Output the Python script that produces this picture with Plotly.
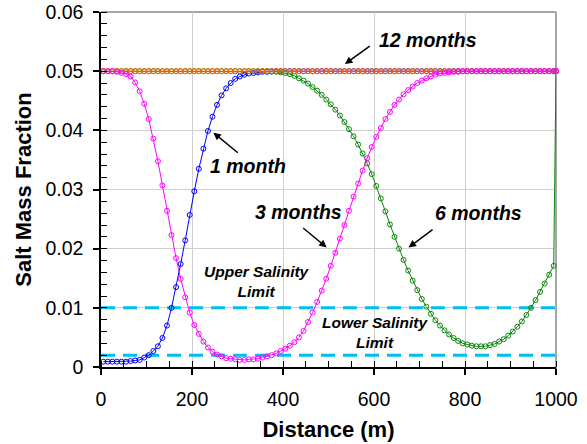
import plotly.graph_objects as go

# Distance grid: cell centres every 10 m plus the seaward boundary at 1000 m
distance_m = list(range(5, 1000, 10)) + [1000]

# Salt mass fraction after each simulated period
salt_1_month = [
    0.0009, 0.0009, 0.0009, 0.0009, 0.0009, 0.0009, 0.0010, 0.0011, 0.0012, 0.0016,
    0.0020, 0.0027, 0.0035, 0.0049, 0.0070, 0.0100, 0.0135, 0.0174, 0.0214, 0.0257,
    0.0297, 0.0335, 0.0369, 0.0399, 0.0423, 0.0443, 0.0459, 0.0471, 0.0480, 0.0487,
    0.0491, 0.0494, 0.0496, 0.0497, 0.0498, 0.0499, 0.0499, 0.0500, 0.0500, 0.0500,
    0.0500, 0.0500, 0.0500, 0.0500, 0.0500, 0.0500, 0.0500, 0.0500, 0.0500, 0.0500,
    0.0500, 0.0500, 0.0500, 0.0500, 0.0500, 0.0500, 0.0500, 0.0500, 0.0500, 0.0500,
    0.0500, 0.0500, 0.0500, 0.0500, 0.0500, 0.0500, 0.0500, 0.0500, 0.0500, 0.0500,
    0.0500, 0.0500, 0.0500, 0.0500, 0.0500, 0.0500, 0.0500, 0.0500, 0.0500, 0.0500,
    0.0500, 0.0500, 0.0500, 0.0500, 0.0500, 0.0500, 0.0500, 0.0500, 0.0500, 0.0500,
    0.0500, 0.0500, 0.0500, 0.0500, 0.0500, 0.0500, 0.0500, 0.0500, 0.0500, 0.0500,
    0.0500,
]

salt_3_months = [
    0.0500, 0.0500, 0.0500, 0.0499, 0.0497, 0.0495, 0.0491, 0.0481, 0.0466, 0.0445,
    0.0419, 0.0386, 0.0348, 0.0307, 0.0264, 0.0223, 0.0184, 0.0149, 0.0118, 0.0092,
    0.0071, 0.0056, 0.0043, 0.0033, 0.0026, 0.0021, 0.0018, 0.0015, 0.0014, 0.0013,
    0.0012, 0.0012, 0.0013, 0.0013, 0.0014, 0.0016, 0.0018, 0.0020, 0.0023, 0.0027,
    0.0031, 0.0036, 0.0042, 0.0050, 0.0061, 0.0076, 0.0092, 0.0110, 0.0129, 0.0149,
    0.0171, 0.0193, 0.0217, 0.0240, 0.0264, 0.0288, 0.0310, 0.0332, 0.0353, 0.0372,
    0.0389, 0.0404, 0.0419, 0.0431, 0.0443, 0.0452, 0.0461, 0.0468, 0.0474, 0.0480,
    0.0484, 0.0488, 0.0491, 0.0494, 0.0496, 0.0497, 0.0498, 0.0499, 0.0499, 0.0500,
    0.0500, 0.0500, 0.0500, 0.0500, 0.0500, 0.0500, 0.0500, 0.0500, 0.0500, 0.0500,
    0.0500, 0.0500, 0.0500, 0.0500, 0.0500, 0.0500, 0.0500, 0.0500, 0.0500, 0.0500,
    0.0500,
]

salt_6_months = [
    0.0500, 0.0500, 0.0500, 0.0500, 0.0500, 0.0500, 0.0500, 0.0500, 0.0500, 0.0500,
    0.0500, 0.0500, 0.0500, 0.0500, 0.0500, 0.0500, 0.0500, 0.0500, 0.0500, 0.0500,
    0.0500, 0.0500, 0.0500, 0.0500, 0.0500, 0.0500, 0.0500, 0.0500, 0.0500, 0.0500,
    0.0500, 0.0500, 0.0500, 0.0500, 0.0500, 0.0500, 0.0500, 0.0499, 0.0499, 0.0498,
    0.0497, 0.0495, 0.0492, 0.0488, 0.0484, 0.0479, 0.0473, 0.0467, 0.0460, 0.0452,
    0.0444, 0.0435, 0.0425, 0.0414, 0.0402, 0.0390, 0.0376, 0.0361, 0.0344, 0.0326,
    0.0306, 0.0285, 0.0263, 0.0241, 0.0220, 0.0200, 0.0181, 0.0163, 0.0146, 0.0130,
    0.0115, 0.0102, 0.0090, 0.0079, 0.0070, 0.0062, 0.0055, 0.0049, 0.0044, 0.0040,
    0.0038, 0.0036, 0.0035, 0.0035, 0.0035, 0.0037, 0.0039, 0.0043, 0.0047, 0.0053,
    0.0060, 0.0068, 0.0077, 0.0088, 0.0100, 0.0113, 0.0127, 0.0141, 0.0156, 0.0171,
    0.0500,
]

salt_12_months = [
    0.0500, 0.0500, 0.0500, 0.0500, 0.0500, 0.0500, 0.0500, 0.0500, 0.0500, 0.0500,
    0.0500, 0.0500, 0.0500, 0.0500, 0.0500, 0.0500, 0.0500, 0.0500, 0.0500, 0.0500,
    0.0500, 0.0500, 0.0500, 0.0500, 0.0500, 0.0500, 0.0500, 0.0500, 0.0500, 0.0500,
    0.0500, 0.0500, 0.0500, 0.0500, 0.0500, 0.0500, 0.0500, 0.0500, 0.0500, 0.0500,
    0.0500, 0.0500, 0.0500, 0.0500, 0.0500, 0.0500, 0.0500, 0.0500, 0.0500, 0.0500,
    0.0500, 0.0500, 0.0500, 0.0500, 0.0500, 0.0500, 0.0500, 0.0500, 0.0500, 0.0500,
    0.0500, 0.0500, 0.0500, 0.0500, 0.0500, 0.0500, 0.0500, 0.0500, 0.0500, 0.0500,
    0.0500, 0.0500, 0.0500, 0.0500, 0.0500, 0.0500, 0.0500, 0.0500, 0.0500, 0.0500,
    0.0500, 0.0500, 0.0500, 0.0500, 0.0500, 0.0500, 0.0500, 0.0500, 0.0500, 0.0500,
    0.0500, 0.0500, 0.0500, 0.0500, 0.0500, 0.0500, 0.0500, 0.0500, 0.0500, 0.0500,
    0.0500,
]

# Salinity limits and the span they are drawn over
limit_span_m = [0, 1000]
upper_salinity_limit = 0.01
lower_salinity_limit = 0.002

FONT = "Arial, 'Liberation Sans', sans-serif"
LIMIT_COLOR = "#00BFF0"

fig = go.Figure()

for level in (upper_salinity_limit, lower_salinity_limit):
    fig.add_trace(go.Scatter(
        x=limit_span_m, y=[level, level], mode="lines",
        line=dict(color=LIMIT_COLOR, width=3, dash="14px,8px"),
        hoverinfo="skip",
    ))

# Drawing order keeps the 3-month curve on top
series = [
    ("1 month", salt_1_month, "#0000FF"),
    ("6 months", salt_6_months, "#0A860A"),
    ("12 months", salt_12_months, "#FF6600"),
    ("3 months", salt_3_months, "#FF00FF"),
]
for name, values, color in series:
    fig.add_trace(go.Scatter(
        x=distance_m, y=values, name=name, mode="lines+markers",
        line=dict(color=color, width=1), cliponaxis=False,
        marker=dict(symbol="circle-open", size=5, color=color, line=dict(width=1, color=color)),
    ))

tick_font = dict(family=FONT, size=19.5, color="black")
title_font = dict(family=FONT, size=22, color="black")

fig.update_layout(
    width=587, height=444,
    margin=dict(l=101, r=31, t=12, b=77),
    paper_bgcolor="white", plot_bgcolor="white",
    showlegend=False,
    xaxis=dict(
        range=[0, 1000], dtick=200, tick0=0, automargin=False,
        showline=True, linecolor="black", linewidth=1.5,
        ticks="outside", ticklen=6, tickwidth=1.5, tickcolor="black",
        ticklabelstandoff=8,
        showgrid=True, gridcolor="#CFCFCF", gridwidth=1, zeroline=False,
        minor=dict(ticks="inside", dtick=50, ticklen=6, tickwidth=1, tickcolor="black", showgrid=False),
        tickfont=tick_font,
        title=dict(text="<b>Distance (m)</b>", font=title_font, standoff=12),
    ),
    yaxis=dict(
        range=[0, 0.06], dtick=0.01, tick0=0, automargin=False,
        showline=True, linecolor="black", linewidth=1.5,
        ticks="outside", ticklen=6, tickwidth=1.5, tickcolor="black",
        ticklabelstandoff=6,
        showgrid=True, gridcolor="#CFCFCF", gridwidth=1, zeroline=False,
        minor=dict(ticks="inside", dtick=0.002, ticklen=6, tickwidth=1, tickcolor="black", showgrid=False),
        tickfont=tick_font,
        title=dict(text="<b>Salt Mass Fraction</b>", font=title_font, standoff=8),
    ),
    # Inner halves of the major ticks, so they cross the axis lines
    xaxis2=dict(
        overlaying="x", matches="x", anchor="y", side="bottom", automargin=False,
        range=[0, 1000], dtick=200, tick0=0,
        ticks="inside", ticklen=6, tickwidth=1.5, tickcolor="black",
        showticklabels=False, showgrid=False, showline=False, zeroline=False,
    ),
    yaxis2=dict(
        overlaying="y", matches="y", anchor="x", side="left", automargin=False,
        range=[0, 0.06], dtick=0.01, tick0=0,
        ticks="inside", ticklen=6, tickwidth=1.5, tickcolor="black",
        showticklabels=False, showgrid=False, showline=False, zeroline=False,
    ),
    shapes=[
        dict(type="line", xref="paper", yref="paper", x0=0, x1=1, y0=1, y1=1,
             layer="below", line=dict(color="#A6A6A6", width=2)),
        dict(type="line", xref="paper", yref="paper", x0=1, x1=1, y0=-0.017, y1=1,
             layer="below", line=dict(color="#A6A6A6", width=2)),
    ],
)

label_font = dict(family=FONT, size=19.5, color="black")
limit_font = dict(family=FONT, size=15.5, color="black")

# Curve labels
for text, x, y in [
    ("12 months", 718, 0.0553),
    ("1 month", 324, 0.0339),
    ("3 months", 434, 0.0262),
    ("6 months", 830, 0.0260),
]:
    fig.add_annotation(x=x, y=y, text=f"<b><i>{text}</i></b>", showarrow=False,
                       font=label_font, xanchor="center", yanchor="middle")

# Arrows from each label to its curve
for head_x, head_y, tail_x, tail_y in [
    (536, 0.0512, 594, 0.0544),
    (247, 0.0396, 304, 0.0360),
    (496, 0.0202, 441, 0.0237),
    (676, 0.0202, 732, 0.0234),
]:
    fig.add_annotation(x=head_x, y=head_y, ax=tail_x, ay=tail_y, axref="x", ayref="y",
                       text="", showarrow=True, arrowhead=2, arrowsize=1,
                       arrowwidth=1.5, arrowcolor="black")

fig.add_annotation(x=342, y=0.0144, text="<b><i>Upper Salinity<br>Limit</i></b>",
                   showarrow=False, font=limit_font, align="center")
fig.add_annotation(x=603, y=0.00575, text="<b><i>Lower Salinity<br>Limit</i></b>",
                   showarrow=False, font=limit_font, align="center")

fig.write_html("out.html")
